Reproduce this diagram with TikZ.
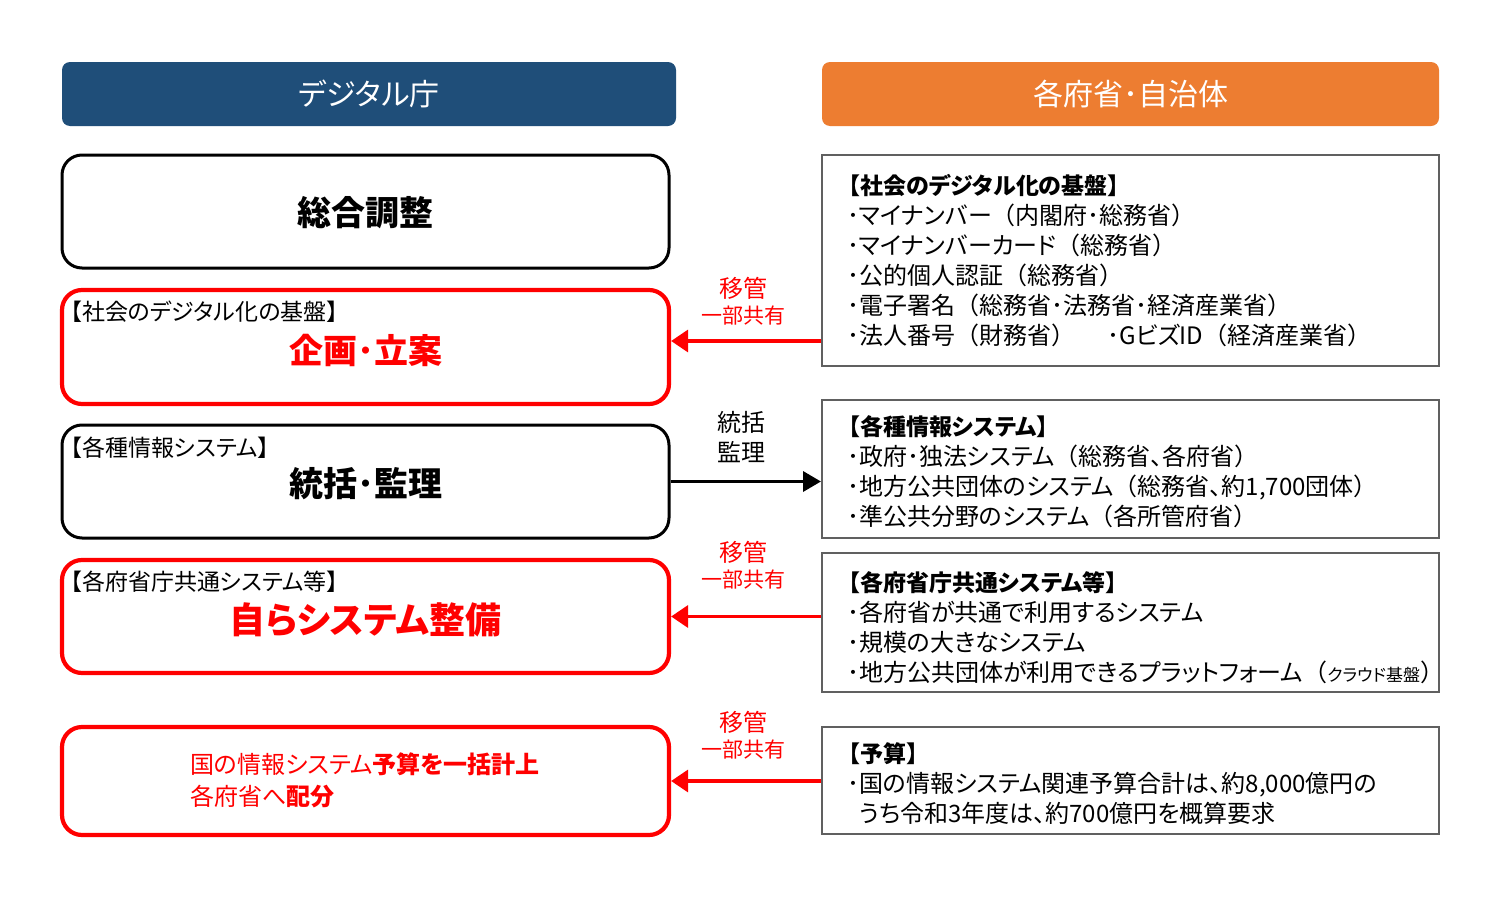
\documentclass[tikz,border=0pt]{standalone}
\usepackage{fontspec}
\setmainfont{Noto Sans CJK JP}[RawFeature=+palt]
\newfontfamily\np{Noto Sans CJK JP}
\usetikzlibrary{arrows.meta}
\definecolor{hdblue}{HTML}{1F4E79}
\definecolor{hdorange}{HTML}{ED7D31}
\definecolor{bred}{HTML}{FF0000}
\definecolor{bgray}{HTML}{606060}
\newcommand{\fs}[2]{\fontsize{#1pt}{#2pt}\selectfont}
\newcommand{\jLP}{{\np （}}
\newcommand{\jRP}{{\np ）}}
\newcommand{\jLB}{{\np 【}}
\newcommand{\jRB}{{\np 】}}
\newcommand{\jMD}{{\np ･}}
\newcommand{\jBL}{\hspace*{10pt}{\np ･}}
\newcommand{\rtitlefont}{\fs{23}{30}\bfseries}
\tikzset{
  hdr/.style={rounded corners=8pt, minimum height=64pt, inner sep=0pt, text=white, font=\fs{30}{36}},
  lbox/.style={draw=black, line width=3pt, rounded corners=20pt, minimum width=607pt, inner sep=0pt},
  rlbox/.style={draw=bred, line width=4.2pt, rounded corners=20pt, minimum width=607pt, inner sep=0pt},
  rbox/.style={draw=bgray, line width=2pt, minimum width=617pt, inner sep=0pt},
  lbl/.style={anchor=west, inner sep=0pt, font=\fs{23}{26}},
  mainb/.style={inner sep=0pt, font=\fs{34}{40}\bfseries},
  rtext/.style={anchor=west, inner sep=0pt, align=left, font=\fs{24}{30}},
  redarrow/.style={draw=bred, line width=3.5pt, -{Triangle[length=17pt,width=22pt]}},
  blkarrow/.style={draw=black, line width=3.5pt, -{Triangle[length=18pt,width=20pt]}},
  albl/.style={inner sep=0pt, text=bred},
}
\begin{document}
\begin{tikzpicture}[x=1pt,y=-1pt]
\useasboundingbox[fill=white] (0,0) rectangle (1500,905);
% headers
\node[hdr, fill=hdblue, minimum width=614pt] (H1) at (369,94) {デジタル庁};
\node[hdr, fill=hdorange, minimum width=617pt] (H2) at (1130.5,94) {各府省･自治体};
% left boxes
\node[lbox, minimum height=113pt] (L1) at (365.5,211.5) {};
\node[mainb] (L1t) at (365.5,213) {総合調整};
\node[rlbox, minimum height=114pt] (L2) at (365.5,347) {};
\node[lbl] (L2l) at (59,312) {\jLB 社会のデジタル化の基盤\jRB};
\node[mainb, text=bred] (L2t) at (365.5,350) {企画･立案};
\node[lbox, minimum height=113pt] (L3) at (365.5,481.5) {};
\node[lbl] (L3l) at (59,448) {\jLB 各種情報システム\jRB};
\node[mainb] (L3t) at (365.5,484) {統括･監理};
\node[rlbox, minimum height=113pt] (L4) at (365.5,616.5) {};
\node[lbl] (L4l) at (59,582) {\jLB 各府省庁共通システム等\jRB};
\node[mainb, text=bred, font=\fs{36}{40}\bfseries] (L4t) at (365.5,620) {自らシステム整備};
\node[rlbox, minimum height=108pt] (L5) at (365.5,781) {};
\node[anchor=west, inner sep=0pt, align=left, text=bred, font=\fs{24}{32}] (L5t) at (190,780)
  {国の情報システム\textbf{予算を一括計上}\\各府省へ\textbf{配分}};
% right boxes
\node[rbox, minimum height=211pt] (R1) at (1130.5,260.5) {};
\node[rtext] (R1t) at (837,261) {{\rtitlefont\jLB 社会のデジタル化の基盤\jRB}\\
\jBL マイナンバー\jLP 内閣府\jMD 総務省\jRP\\
\jBL マイナンバーカード\jLP 総務省\jRP\\
\jBL 公的個人認証\jLP 総務省\jRP\\
\jBL 電子署名\jLP 総務省\jMD 法務省\jMD 経済産業省\jRP\\
\jBL 法人番号\jLP 財務省\jRP\hspace{32pt}\jMD GビズID\jLP 経済産業省\jRP};
\node[rbox, minimum height=138pt] (R2) at (1130.5,469) {};
\node[rtext] (R2t) at (837,472) {{\rtitlefont\jLB 各種情報システム\jRB}\\
\jBL 政府\jMD 独法システム\jLP 総務省、各府省\jRP\\
\jBL 地方公共団体のシステム\jLP 総務省、約1,700団体\jRP\\
\jBL 準公共分野のシステム\jLP 各所管府省\jRP};
\node[rbox, minimum height=139pt] (R3) at (1130.5,622.5) {};
\node[rtext] (R3t) at (837,628) {{\rtitlefont\jLB 各府省庁共通システム等\jRB}\\
\jBL 各府省が共通で利用するシステム\\
\jBL 規模の大きなシステム\\
\jBL 地方公共団体が利用できるプラットフォーム\jLP{\fs{17}{30}クラウド基盤}\jRP};
\node[rbox, minimum height=107pt] (R4) at (1130.5,780.5) {};
\node[rtext] (R4t) at (837,784) {{\rtitlefont\jLB 予算\jRB}\\
\jBL 国の情報システム関連予算合計は、約8,000億円の\\
\hspace*{22pt}うち令和3年度は、約700億円を概算要求};
% arrows
\coordinate (y1) at (0,341);
\draw[redarrow] (R1.west |- y1) -- (L2.east |- y1);
\node[albl, font=\fs{24}{28}] (A1a) at (743,288) {移管};
\node[albl, font=\fs{21}{26}] (A1b) at (743,316) {一部共有};
\draw[blkarrow] (L3.east) -- (R2.west |- L3.east);
\node[inner sep=0pt, font=\fs{24}{30}, align=center] (A2) at (741,437) {統括\\監理};
\draw[redarrow] (R3.west |- L4.east) -- (L4.east);
\node[albl, font=\fs{24}{28}] (A3a) at (743,552) {移管};
\node[albl, font=\fs{21}{26}] (A3b) at (743,580) {一部共有};
\draw[redarrow] (R4.west |- L5.east) -- (L5.east);
\node[albl, font=\fs{24}{28}] (A4a) at (743,722) {移管};
\node[albl, font=\fs{21}{26}] (A4b) at (743,750) {一部共有};
\end{tikzpicture}
\end{document}
